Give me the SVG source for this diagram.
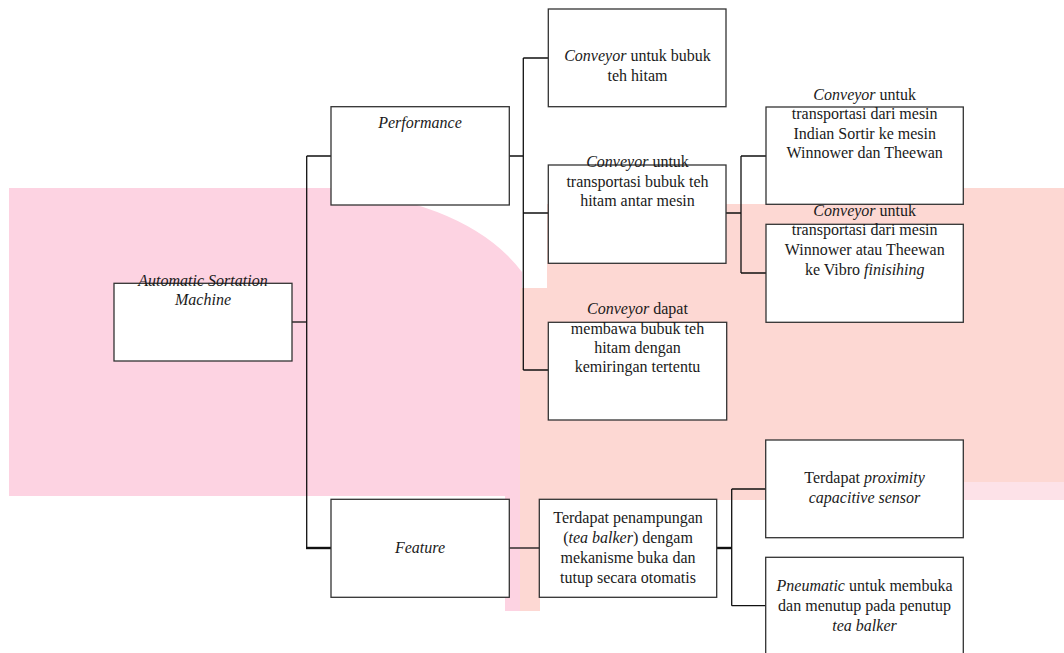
<svg xmlns="http://www.w3.org/2000/svg" width="1064" height="653" viewBox="0 0 1064 653">
<style>
.box{fill:#fff;stroke:#333;stroke-width:1.3}
.ln{fill:none;stroke:#111;stroke-width:1.3}
.thick{stroke-width:2.4}
.t text{font-size:16px;fill:#1a1a1a;text-anchor:middle}
.it{font-style:italic}
</style>
<rect width="1064" height="653" fill="#fff"/>
<g id="watermark">
<path d="M9,188 H330 Q470,203 522,272 V611 H505 V496 H9 Z" fill="#fdd3e2"/>
<path d="M520,288 H547 V204 H963 V188 H1064 V482 H963 V500 H540 V611 H520 Z" fill="#fdd8d3"/>
<path d="M963,482 H1064 V500 H963 Z" fill="#fde2e8"/>
</g>
<g id="connectors">
<path class="ln" d="M292,322 H306.7"/>
<path class="ln" d="M306.7,156 V548 M306.7,156 H331"/>
<path class="ln thick" d="M306,548 H331"/>
<path class="ln" d="M509,156 H523.3 M523.3,58 V370 M523.3,58 H548 M523.3,213 H548 M523.3,370 H548"/>
<path class="ln" d="M726,213 H741 M741,156 V273 M741,156 H766 M741,273 H766"/>
<path class="ln" d="M509,548 H539"/>
<path class="ln thick" d="M716.7,548 H731.7"/>
<path class="ln" d="M731.7,489 V605.7 M731.7,489 H766 M731.7,605.7 H766"/>
</g>
<g class="t" font-family="'Liberation Serif', Tinos, 'Times New Roman', 'DejaVu Serif', serif">
<g id="n-asm">
<rect class="box" x="114" y="283.3" width="178" height="77.7"/>
<text class="it" x="203" y="286">Automatic Sortation</text>
<text class="it" x="203" y="305">Machine</text>
</g>
<g id="n-performance">
<rect class="box" x="331" y="106.7" width="178.3" height="98.3"/>
<text class="it" x="420" y="127.5">Performance</text>
</g>
<g id="n-c1">
<rect class="box" x="548.3" y="9" width="177.7" height="97.7"/>
<text x="637.5" y="61"><tspan class="it">Conveyor</tspan> untuk bubuk</text>
<text x="637.5" y="81">teh hitam</text>
</g>
<g id="n-c2">
<rect class="box" x="548.3" y="165" width="177.7" height="98.3"/>
<text x="637.5" y="166.7"><tspan class="it">Conveyor</tspan> untuk</text>
<text x="637.5" y="187">transportasi bubuk teh</text>
<text x="637.5" y="206">hitam antar mesin</text>
</g>
<g id="n-d1">
<rect class="box" x="766" y="107" width="197.3" height="97.3"/>
<text x="864.7" y="99.5"><tspan class="it">Conveyor</tspan> untuk</text>
<text x="864.7" y="119">transportasi dari mesin</text>
<text x="864.7" y="138.5">Indian Sortir ke mesin</text>
<text x="864.7" y="158">Winnower dan Theewan</text>
</g>
<g id="n-d2">
<rect class="box" x="766" y="224.3" width="197.3" height="98"/>
<text x="864.7" y="215.7"><tspan class="it">Conveyor</tspan> untuk</text>
<text x="864.7" y="235.3">transportasi dari mesin</text>
<text x="864.7" y="255">Winnower atau Theewan</text>
<text x="864.7" y="274.5">ke Vibro <tspan class="it">finisihing</tspan></text>
</g>
<g id="n-c3">
<rect class="box" x="548.3" y="322.3" width="178.4" height="97.7"/>
<text x="637.5" y="314"><tspan class="it">Conveyor</tspan> dapat</text>
<text x="637.5" y="333.5">membawa bubuk teh</text>
<text x="637.5" y="353">hitam dengan</text>
<text x="637.5" y="372">kemiringan tertentu</text>
</g>
<g id="n-feature">
<rect class="box" x="331" y="499.3" width="178.3" height="98"/>
<text class="it" x="420" y="552.7">Feature</text>
</g>
<g id="n-terdapat">
<rect class="box" x="539.3" y="499.3" width="177.4" height="98"/>
<text x="628" y="522.7">Terdapat penampungan</text>
<text x="628" y="542.7">(<tspan class="it">tea balker</tspan>) dengam</text>
<text x="628" y="562.7">mekanisme buka dan</text>
<text x="628" y="582.7">tutup secara otomatis</text>
</g>
<g id="n-e1">
<rect class="box" x="765.7" y="440" width="197.6" height="97.7"/>
<text x="864.5" y="483.3">Terdapat <tspan class="it">proximity</tspan></text>
<text class="it" x="864.5" y="502.7">capacitive sensor</text>
</g>
<g id="n-e2">
<rect class="box" x="765.7" y="557.3" width="197.6" height="100"/>
<text x="864.5" y="591"><tspan class="it">Pneumatic</tspan> untuk membuka</text>
<text x="864.5" y="611">dan menutup pada penutup</text>
<text class="it" x="864.5" y="630.5">tea balker</text>
</g>
</g>
</svg>
